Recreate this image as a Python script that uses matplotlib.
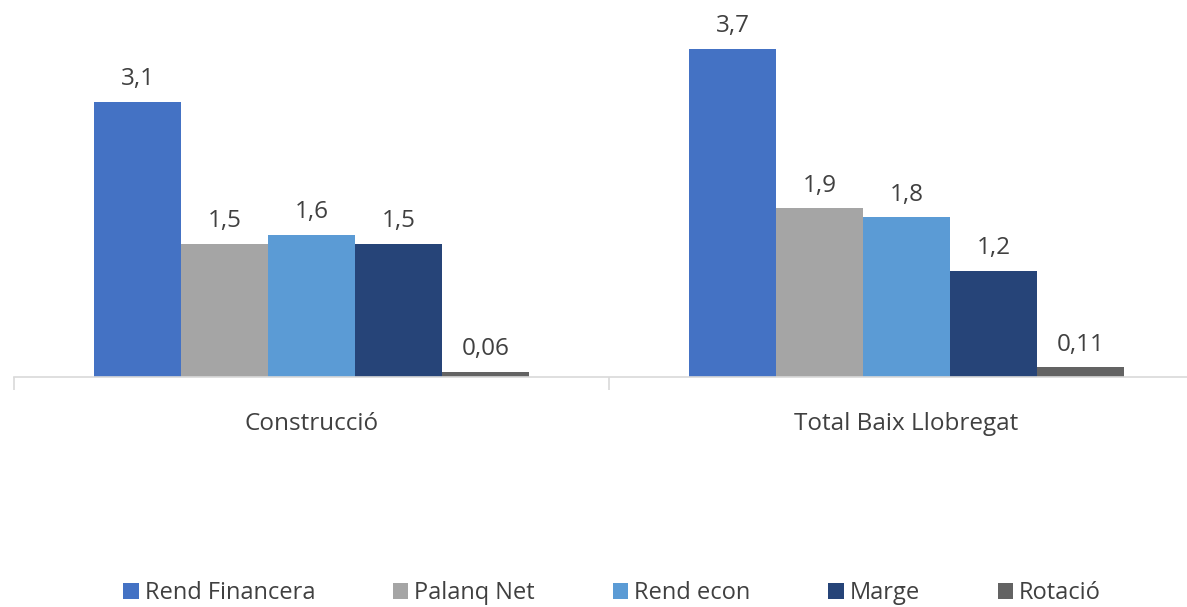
import matplotlib.pyplot as plt
import numpy as np

plt.rcParams['font.family'] = ['Open Sans', 'DejaVu Sans']

categories = ['Construcció', 'Total Baix Llobregat']
series = ['Rend Financera', 'Palanq Net', 'Rend econ', 'Marge', 'Rotació']
values = {
    'Rend Financera': [3.1, 3.7],
    'Palanq Net': [1.5, 1.9],
    'Rend econ': [1.6, 1.8],
    'Marge': [1.5, 1.2],
    'Rotació': [0.06, 0.11],
}
colors = ['#4472C4', '#A5A5A5', '#5B9BD5', '#264478', '#636363']

fig = plt.figure(figsize=(11.87, 6.07), dpi=100)
ax = fig.add_axes([14 / 1187, 230 / 607, 1190 / 1187, 355 / 607])

x = np.arange(len(categories))
bw = 0.731 / len(series)
for i, (name, col) in enumerate(zip(series, colors)):
    pos = x - 0.731 / 2 + bw * (i + 0.5)
    bars = ax.bar(pos, values[name], bw, color=col, label=name)
    for b, v in zip(bars, values[name]):
        ax.text(b.get_x() + b.get_width() / 2, v + 0.12,
                str(v).replace('.', ','), ha='center', va='bottom',
                fontsize=17.5, color='#404040')

ax.set_xlim(-0.5, 1.5)
ax.set_ylim(0, 4)
ax.set_yticks([])
for s in ['top', 'right', 'left']:
    ax.spines[s].set_visible(False)
ax.spines['bottom'].set_color('#D9D9D9')
ax.spines['bottom'].set_linewidth(1.2)

ax.set_xticks([-0.5, 0.5, 1.5], minor=True)
ax.set_xticks(x)
ax.set_xticklabels(categories, fontsize=17.5, color='#404040')
ax.tick_params(axis='x', which='major', length=0, pad=25)
ax.tick_params(axis='x', which='minor', length=9, width=1.2, color='#D9D9D9')

fig.legend(loc='center', bbox_to_anchor=(612 / 1187, 1 - 593 / 607), ncol=5,
           frameon=False, fontsize=17, handlelength=0.65, handleheight=0.65,
           handletextpad=0.25, columnspacing=3.3, labelcolor='#404040')

fig.savefig('out.png', dpi=100)
